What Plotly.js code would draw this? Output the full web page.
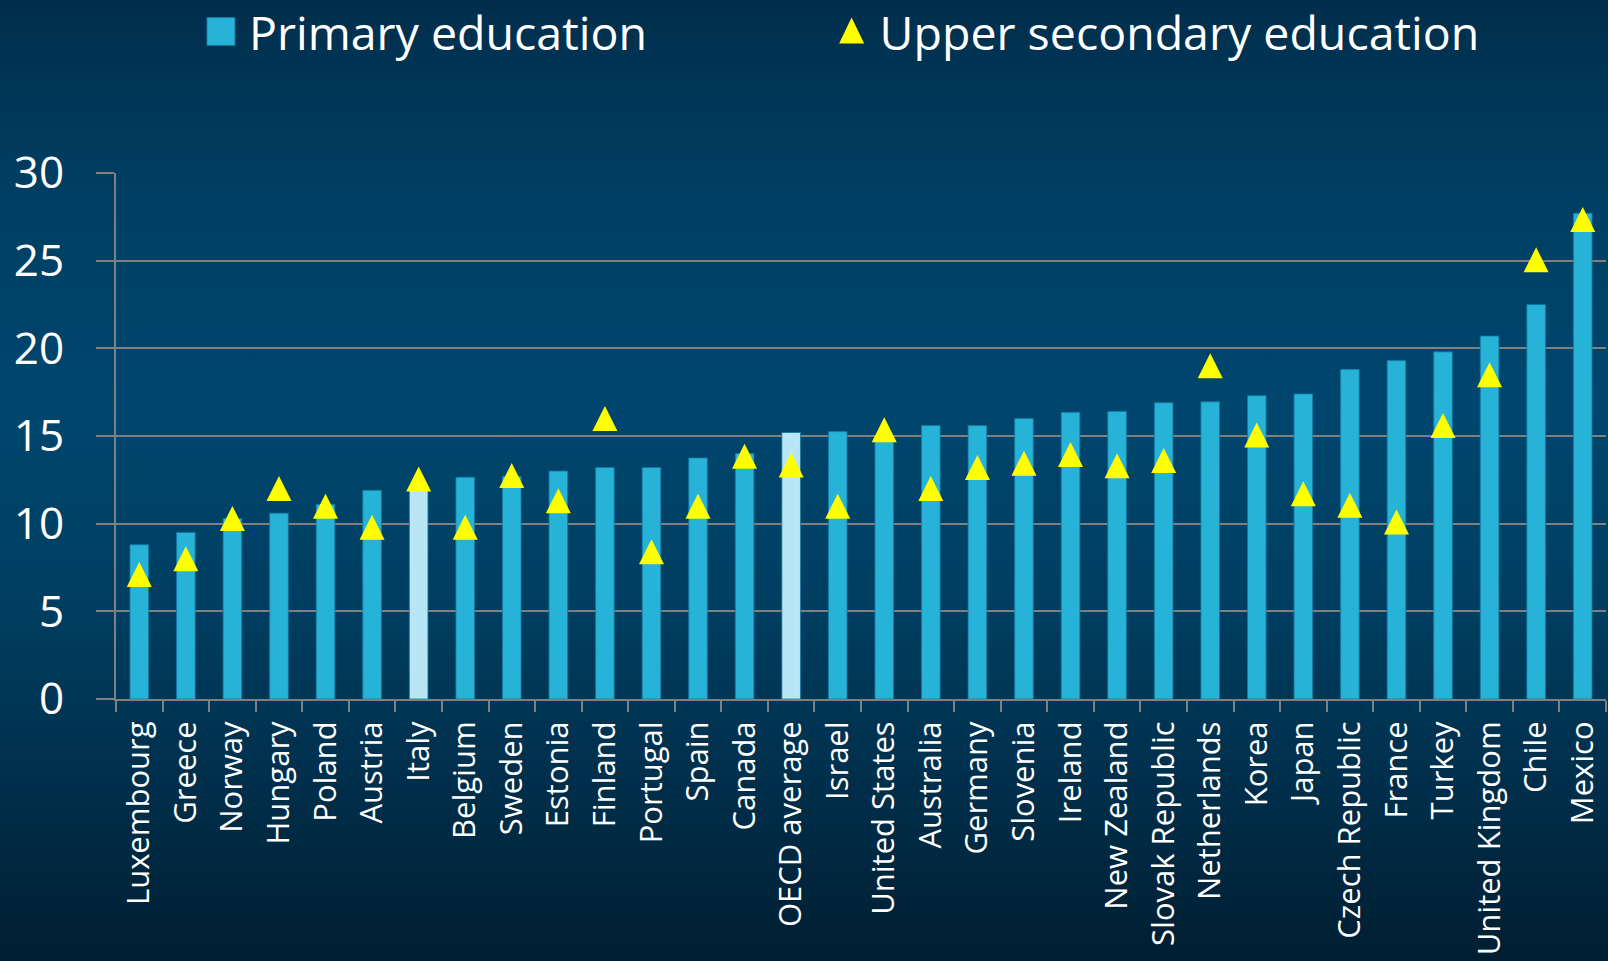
<!DOCTYPE html>
<html>
<head>
<meta charset="utf-8">
<script src="https://cdn.plot.ly/plotly-3.0.1.min.js"></script>
<style>
  html, body { margin: 0; padding: 0; }
  body {
    width: 1608px; height: 961px; overflow: hidden;
    background: linear-gradient(to bottom, #002e4b 0%, #003f63 20%, #00466e 42%, #003f62 62%, #00304d 80%, #001e31 100%);
  }
  #chart { width: 1608px; height: 961px; }
</style>
</head>
<body>
<div id="chart"></div>
<script>
const countries = ["Luxembourg","Greece","Norway","Hungary","Poland","Austria","Italy","Belgium","Sweden","Estonia","Finland","Portugal","Spain","Canada","OECD average","Israel","United States","Australia","Germany","Slovenia","Ireland","New Zealand","Slovak Republic","Netherlands","Korea","Japan","Czech Republic","France","Turkey","United Kingdom","Chile","Mexico"];
const primaryEducation = [8.8, 9.5, 10.3, 10.6, 11.1, 11.9, 12.1, 12.65, 12.7, 13.0, 13.2, 13.2, 13.75, 14.0, 15.2, 15.25, 14.9, 15.6, 15.6, 16.0, 16.35, 16.4, 16.9, 16.95, 17.3, 17.4, 18.8, 19.3, 19.8, 20.7, 22.5, 27.7];
const upperSecondaryEducation = [7.1, 8.0, 10.3, 12.0, 11.0, 9.8, 12.55, 9.8, 12.75, 11.3, 16.0, 8.4, 11.0, 13.85, 13.35, 11.0, 15.35, 12.0, 13.2, 13.45, 13.95, 13.3, 13.6, 19.0, 15.05, 11.7, 11.05, 10.1, 15.6, 18.5, 25.05, 27.35];
const highlighted = ["Italy", "OECD average"];
const yTicks = [0, 5, 10, 15, 20, 25, 30];

const barColor = "#27b2d8";
const highlightColor = "#b9e6f4";
const gridColor = "#808080";
const markerSize = 25;
const plotHeightPx = 961 - 173 - 262;
const yMax = 30;
// arrow-up marker has its tip at the data point; shift the overlay axis so the marker's middle sits on the value
const shift = (markerSize / 2) / plotHeightPx * yMax;

const traces = [
  {
    type: "bar",
    name: "Primary education",
    x: countries,
    y: primaryEducation,
    legend: "legend",
    marker: {
      color: countries.map(c => highlighted.includes(c) ? highlightColor : barColor),
      line: { color: "rgba(20,120,160,0.8)", width: 1 }
    },
    hoverinfo: "x+y"
  },
  {
    type: "scatter",
    mode: "markers",
    name: "Upper secondary education",
    x: countries,
    y: upperSecondaryEducation,
    yaxis: "y2",
    legend: "legend2",
    cliponaxis: false,
    marker: { symbol: "arrow-up", size: markerSize, color: "#ffff00", line: { width: 0 } },
    hoverinfo: "x+y"
  }
];

const legendBase = {
  orientation: "h",
  xref: "container", yref: "container",
  y: 0.967, xanchor: "left", yanchor: "middle",
  font: { size: 46.5, color: "#ffffff" },
  bgcolor: "rgba(0,0,0,0)",
  itemwidth: 46
};

const layout = {
  width: 1608,
  height: 961,
  paper_bgcolor: "rgba(0,0,0,0)",
  plot_bgcolor: "rgba(0,0,0,0)",
  margin: { l: 116, r: 2, t: 173, b: 262, pad: 0 },
  font: { family: "Open Sans, Noto Sans, sans-serif", color: "#ffffff" },
  bargap: 0.6,
  showlegend: true,
  legend: Object.assign({}, legendBase, { x: 0.12 }),
  legend2: Object.assign({}, legendBase, { x: 0.5122 }),
  xaxis: {
    type: "category",
    range: [-0.5, countries.length - 0.5],
    tickson: "boundaries",
    ticks: "outside",
    ticklen: 11,
    tickwidth: 2,
    tickcolor: gridColor,
    ticklabelstandoff: 8,
    showline: true,
    linecolor: gridColor,
    linewidth: 2,
    tickangle: -90,
    tickfont: { size: 31, color: "#ffffff" },
    showgrid: false,
    zeroline: false
  },
  yaxis: {
    range: [0, yMax],
    tickvals: yTicks,
    ticktext: yTicks.map(String),
    ticks: "outside",
    ticklen: 18,
    tickwidth: 2,
    tickcolor: gridColor,
    ticklabelstandoff: 23,
    showline: true,
    linecolor: gridColor,
    linewidth: 2,
    showgrid: true,
    gridcolor: gridColor,
    gridwidth: 2,
    zeroline: false,
    tickfont: { size: 44, color: "#ffffff" }
  },
  yaxis2: {
    overlaying: "y",
    range: [-shift, yMax - shift],
    visible: false,
    showgrid: false,
    zeroline: false
  }
};

Plotly.newPlot("chart", traces, layout, { displayModeBar: false, staticPlot: true }).then(function (gd) {
  // enlarge legend symbols to match the reference
  gd.querySelectorAll(".legendpoints path").forEach(function (p) {
    if (p.classList.contains("scatterpts")) {
      p.setAttribute("d", "M0,-14L-12.5,12H12.5Z");
    } else {
      p.setAttribute("d", "M14,14H-14V-14H14Z");
    }
  });
});
</script>
</body>
</html>
